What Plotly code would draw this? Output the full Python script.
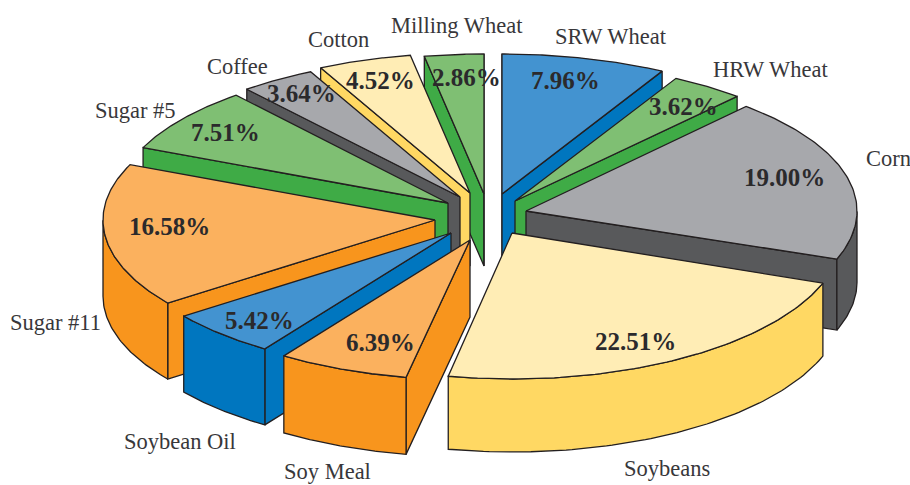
import numpy as np
import plotly.graph_objects as go

categories = ["SRW Wheat", "HRW Wheat", "Corn", "Soybeans", "Soy Meal", "Soybean Oil",
              "Sugar #11", "Sugar #5", "Coffee", "Cotton", "Milling Wheat"]
shares = [7.96, 3.62, 19.00, 22.51, 6.39, 5.42, 16.58, 7.51, 3.64, 4.52, 2.86]

# styling / layout constants
TOP = {"blue": "#4393d0", "green": "#7fbf73", "gray": "#a7a8ac", "yellow": "#ffedb5", "orange": "#fbb15e"}
SIDE = {"blue": "#0076bf", "green": "#3fab46", "gray": "#58595b", "yellow": "#ffd863", "orange": "#f8951d"}
hues = ["blue", "green", "gray", "yellow", "orange", "blue", "orange", "green", "gray", "yellow", "green"]
apex_x = [502, 515, 526, 512, 470, 451, 435, 448, 460, 470, 484]
apex_y = [194, 201, 211, 233, 240, 233, 220, 203, 197, 193, 194]
radius_x = [334, 334, 331, 331, 332, 332, 332, 332, 334, 334, 334]
radius_y = [140, 140, 140, 146, 140, 140, 140, 140, 140, 140, 140]
depth = [73, 73, 71, 73, 77, 76, 76, 73, 73, 73, 72]
draw_order = ["Milling Wheat", "Cotton", "Coffee", "Sugar #5", "SRW Wheat", "HRW Wheat", "Corn",
              "Sugar #11", "Soybeans", "Soybean Oil", "Soy Meal"]
pct_x = [565, 683, 784, 635, 380, 259, 169, 225, 301, 380, 466]
pct_y = [80, 106, 177, 341, 342, 320, 226, 132, 93, 80, 77]
lab_x = [611, 771, 888, 667, 327, 180, 55, 135, 237, 338, 457]
lab_y = [36, 69, 158, 468, 471, 441, 322, 110, 66, 39, 25]

fig = go.Figure()


def face(xs, ys, color):
    fig.add_trace(go.Scatter(x=xs, y=ys, mode="lines", fill="toself", fillcolor=color,
                             line=dict(color="#231f20", width=1.3), hoverinfo="skip", showlegend=False))


def cut_visible(ex, ey, mx, my):
    # a cut face shows when moving straight down leaves the wedge
    return np.sign(ex * 1.0) != np.sign(ex * my - ey * mx)


edges = np.concatenate([[0], np.cumsum(shares)]) / np.sum(shares) * 2 * np.pi
for name in draw_order:
    i = categories.index(name)
    a0, a1 = edges[i], edges[i + 1]
    ax, ay, rx, ry, d = apex_x[i], apex_y[i], radius_x[i], radius_y[i], depth[i]
    th = np.linspace(a0, a1, 80)
    arc_x = ax + rx * np.sin(th)
    arc_y = ay - ry * np.cos(th)
    side, top = SIDE[hues[i]], TOP[hues[i]]
    mid = (a0 + a1) / 2
    mx, my = rx * np.sin(mid), -ry * np.cos(mid)
    for k in (0, -1):
        if cut_visible(arc_x[k] - ax, arc_y[k] - ay, mx, my):
            face([ax, arc_x[k], arc_x[k], ax, ax], [ay, arc_y[k], arc_y[k] + d, ay + d, ay], side)
    vis = (th >= np.pi / 2) & (th <= 3 * np.pi / 2)
    if vis.any():
        wx, wy = arc_x[vis], arc_y[vis]
        face(np.r_[wx, wx[::-1], wx[0]], np.r_[wy, wy[::-1] + d, wy[0]], side)
    face(np.r_[ax, arc_x, ax], np.r_[ay, arc_y, ay], top)

for i, name in enumerate(categories):
    fig.add_annotation(x=pct_x[i], y=pct_y[i], text=f"<b>{shares[i]:.2f}%</b>", showarrow=False,
                       font=dict(family="Liberation Serif", size=25, color="#2b2a2c"))
    fig.add_annotation(x=lab_x[i], y=lab_y[i], text=name, showarrow=False,
                       font=dict(family="Liberation Serif", size=22.5, color="#38373a"))

fig.update_layout(
    width=910, height=485, margin=dict(l=0, r=0, t=0, b=0), autosize=False,
    paper_bgcolor="white", plot_bgcolor="white", showlegend=False,
    xaxis=dict(range=[0, 910], visible=False, fixedrange=True),
    yaxis=dict(range=[485, 0], visible=False, fixedrange=True),
)
fig.write_html("out.html", config={"displayModeBar": False},
               post_script="document.body.style.margin='0';document.documentElement.style.overflow='hidden';")
